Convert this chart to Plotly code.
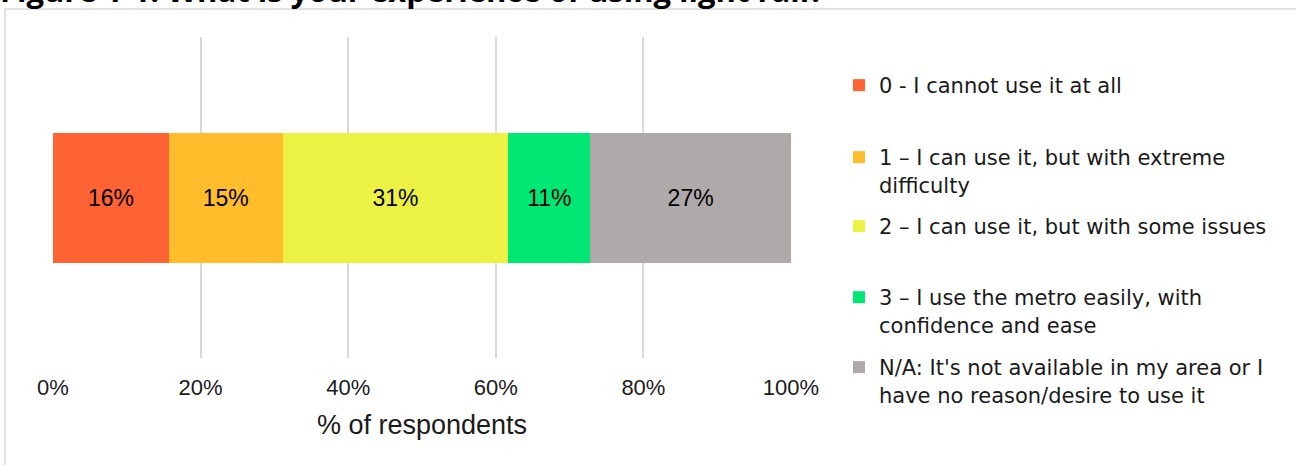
import plotly.graph_objects as go

# ---- data ----
categories = ["Light rail"]
series_names = [
    "0 - I cannot use it at all",
    "1 – I can use it, but with extreme<br>difficulty",
    "2 – I can use it, but with some issues",
    "3 – I use the metro easily, with<br>confidence and ease",
    "N/A: It's not available in my area or I<br>have no reason/desire to use it",
]
series_values = [15.7, 15.4, 30.6, 11.1, 27.2]
series_colors = ["#FF6333", "#FFBC2B", "#ECF244", "#00E874", "#AEAAAA"]
tick_values = [0, 20, 40, 60, 80, 100]
tick_labels = ["0%", "20%", "40%", "60%", "80%", "100%"]
title_text = "Figure 1-1: What is your experience of using light rail?"
x_title = "% of respondents"

# ---- layout geometry (pixels) ----
W, H = 1296, 465
L, R, T, B = 53, 505, 37, 107
plot_w = W - L - R
plot_h = H - T - B

def px_x(px):
    return (px - L) / plot_w

def px_y(py):
    return (H - B - py) / plot_h

legend_tops = [65, 137, 206, 277, 347]
legend_ids = ["legend", "legend2", "legend3", "legend4", "legend5"]

fig = go.Figure()
for name, val, col, lid in zip(series_names, series_values, series_colors, legend_ids):
    fig.add_trace(go.Bar(
        y=categories, x=[val], name=name, orientation="h",
        marker=dict(color=col, line=dict(width=0)),
        text=[f"{round(val)}%"], textposition="inside",
        insidetextanchor="middle",
        textfont=dict(family="Liberation Sans, Arial, sans-serif", size=23, color="#000000"),
        legend=lid, hoverinfo="skip",
    ))

legend_font = dict(family="DejaVu Sans, Verdana, sans-serif", size=21, color="#1a1a1a")
legend_layout = {}
for lid, top in zip(legend_ids, legend_tops):
    legend_layout[lid] = dict(
        x=px_x(839), xanchor="left", y=px_y(top), yanchor="top",
        font=legend_font, valign="top", bgcolor="rgba(0,0,0,0)",
        borderwidth=0, itemclick=False, itemdoubleclick=False,
    )

fig.update_layout(
    width=W, height=H,
    margin=dict(l=L, r=R, t=T, b=B, autoexpand=False),
    paper_bgcolor="white", plot_bgcolor="white",
    barmode="stack", bargap=0.595,
    showlegend=True,
    xaxis=dict(
        range=[0, 100], tickvals=tick_values, ticktext=tick_labels,
        showgrid=True, gridcolor="#D9D9D9", gridwidth=1.5,
        zeroline=False, showline=False, ticks="",
        tickfont=dict(family="Liberation Sans, Arial, sans-serif", size=22, color="#1a1a1a"),
        ticklabelstandoff=14,
        title=dict(text=x_title, standoff=16,
                   font=dict(family="Liberation Sans, Arial, sans-serif", size=27, color="#1a1a1a")),
        fixedrange=True,
    ),
    yaxis=dict(showticklabels=False, showgrid=False, zeroline=False,
               range=[-0.5, 0.5], fixedrange=True),
    shapes=[dict(
        type="rect", xref="paper", yref="paper",
        x0=px_x(5), x1=px_x(1310), y0=px_y(475), y1=px_y(9),
        line=dict(color="#D9D9D9", width=1.5), fillcolor="rgba(0,0,0,0)", layer="below",
    )],
    annotations=[dict(
        text=f"<b>{title_text}</b>", xref="paper", yref="paper",
        x=px_x(-2), xanchor="left", y=px_y(13), yanchor="bottom",
        showarrow=False,
        font=dict(family="Open Sans, Noto Sans, sans-serif", size=31, color="#000000"),
    )],
    **legend_layout,
)

fig.write_html("out.html", config={"displayModeBar": False},
               post_script="document.body.style.margin='0';document.body.style.overflow='hidden';")
